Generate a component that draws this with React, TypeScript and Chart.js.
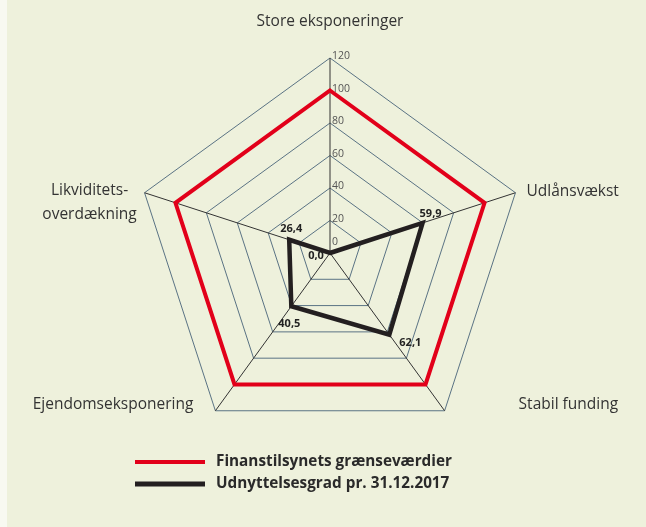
import React, { useEffect, useRef } from "react";
import { Chart, registerables } from "chart.js";

Chart.register(...registerables);

const categories: (string | string[])[] = [
  "Store eksponeringer",
  "Udlånsvækst",
  "Stabil funding",
  "Ejendomseksponering",
  ["Likviditets-", "overdækning"],
];
const seriesNames = ["Finanstilsynets grænseværdier", "Udnyttelsesgrad pr. 31.12.2017"];
const limitValues = [100, 100, 100, 100, 100];
const usageValues = [0.0, 59.9, 62.1, 40.5, 26.4];
const scaleMin = 0;
const scaleMax = 120;
const scaleStep = 20;

const BG = "#eef1dc";
const FONT = "'Open Sans', 'Noto Sans', 'DejaVu Sans', sans-serif";
const RED = "#e2001a";
const BLACK = "#231f20";

const fmt = (v: number) => v.toFixed(1).replace(".", ",");

const overlay = {
  id: "overlay",
  beforeDraw(chart: any) {
    const { ctx, width, height } = chart;
    ctx.save();
    ctx.fillStyle = BG;
    ctx.fillRect(0, 0, width, height);
    ctx.fillStyle = "#f8f9f1";
    ctx.fillRect(0, 0, 7, height);
    ctx.restore();
  },
  afterDatasetsDraw(chart: any) {
    const scale = chart.scales.r;
    const ctx = chart.ctx as CanvasRenderingContext2D;
    const cx = scale.xCenter;
    const cy = scale.yCenter;
    const R = scale.drawingArea;
    ctx.save();

    // tick labels
    ctx.font = `10.5px ${FONT}`;
    ctx.fillStyle = "#555";
    ctx.textAlign = "left";
    ctx.textBaseline = "alphabetic";
    scale.ticks.forEach((t: any) => {
      const d = scale.getDistanceFromCenterForValue(t.value);
      const y = cy - d + (t.value === 0 ? -8 : 1);
      ctx.fillText(String(t.value), cx + 2, y);
    });

    // point labels
    ctx.font = `15.5px ${FONT}`;
    ctx.fillStyle = "#333";
    ctx.textBaseline = "middle";
    const place = [
      { dx: 0, dy: -36, align: "center" },
      { dx: 11, dy: -1, align: "left" },
      { dx: 74, dy: -6, align: "left" },
      { dx: -22, dy: -6, align: "right" },
      { dx: -55, dy: 10, align: "center" },
    ];
    categories.forEach((lab, i) => {
      const p = scale.getPointPosition(i, R);
      const pl = place[i];
      ctx.textAlign = pl.align as CanvasTextAlign;
      const lines = Array.isArray(lab) ? lab : [lab];
      const lh = 24;
      lines.forEach((ln, k) => {
        const y = p.y + pl.dy + (k - (lines.length - 1) / 2) * lh;
        ctx.fillText(ln, p.x + pl.dx, y);
      });
    });

    // data labels for usage series
    const meta = chart.getDatasetMeta(1);
    const offs = [
      [-14, 3],
      [8, -9],
      [21, 8],
      [-2, 18],
      [2, -11],
    ];
    ctx.font = `bold 11px ${FONT}`;
    ctx.fillStyle = "#222";
    ctx.textAlign = "center";
    ctx.textBaseline = "middle";
    meta.data.forEach((el: any, i: number) => {
      ctx.fillText(fmt(usageValues[i]), el.x + offs[i][0], el.y + offs[i][1]);
    });

    // legend
    const rows = [
      { y: 462, color: RED, w: 4 },
      { y: 484, color: BLACK, w: 5 },
    ];
    ctx.textAlign = "left";
    ctx.font = `bold 15.3px ${FONT}`;
    chart.data.datasets.forEach((ds: any, i: number) => {
      const r = rows[i];
      ctx.fillStyle = ds.borderColor;
      ctx.fillRect(135, r.y - r.w / 2, 70, r.w);
      ctx.fillStyle = "#2a2a2a";
      ctx.fillText(ds.label, 216, r.y);
    });
    ctx.restore();
  },
};

export default function App() {
  const ref = useRef<HTMLCanvasElement | null>(null);
  useEffect(() => {
    document.body.style.margin = "0";
    const canvas = ref.current!;
    const chart = new Chart(canvas, {
      type: "radar",
      data: {
        labels: categories as any,
        datasets: [
          {
            label: seriesNames[0],
            data: limitValues,
            borderColor: RED,
            backgroundColor: "transparent",
            borderWidth: 4,
            borderJoinStyle: "miter",
            pointRadius: 0,
            fill: false,
          },
          {
            label: seriesNames[1],
            data: usageValues,
            borderColor: BLACK,
            backgroundColor: "transparent",
            borderWidth: 4.5,
            borderJoinStyle: "miter",
            pointRadius: 0,
            fill: false,
          },
        ],
      },
      options: {
        responsive: false,
        animation: false,
        devicePixelRatio: 1,
        layout: { padding: { left: 135, right: 121, top: 58, bottom: 79 } },
        plugins: { legend: { display: false }, tooltip: { enabled: false } },
        elements: { line: { tension: 0 } },
        scales: {
          r: {
            min: scaleMin,
            max: scaleMax,
            beginAtZero: true,
            ticks: { display: false, stepSize: scaleStep },
            grid: { color: "#5a7384", lineWidth: 1 },
            angleLines: { color: "#333", lineWidth: 1 },
            pointLabels: { display: false },
          },
        },
      } as any,
      plugins: [overlay],
    });
    return () => chart.destroy();
  }, []);
  return (
    <div>
      <canvas ref={ref} width={646} height={527} style={{ display: "block", width: 646, height: 527 }} />
    </div>
  );
}
